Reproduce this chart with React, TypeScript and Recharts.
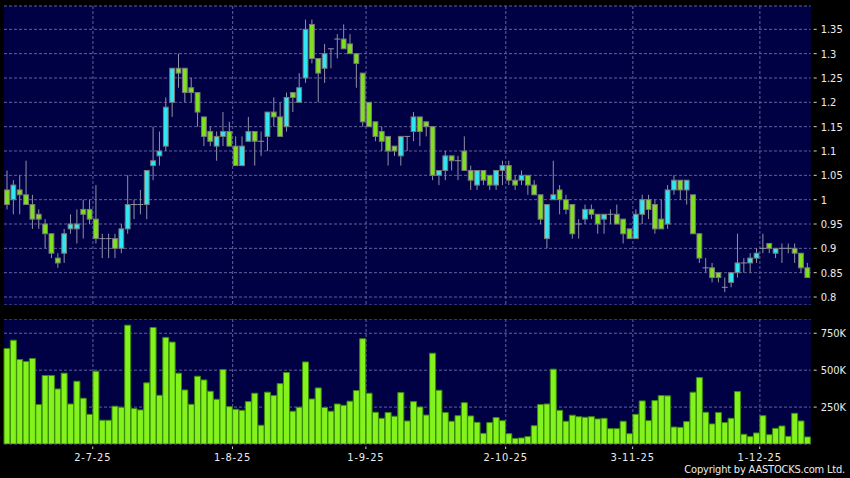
import React from "react"
import { ComposedChart, Bar, XAxis, YAxis, CartesianGrid } from "recharts"

// trading days shown on the chart, grouped by month (2025)
const monthDays: [string, number[]][] = [
  ["6", [12, 13, 16, 17, 18, 19, 20, 23, 24, 25, 26, 27, 30]],
  ["7", [2, 3, 4, 7, 8, 9, 10, 11, 14, 15, 16, 17, 18, 21, 22, 23, 24, 25, 28, 29, 30, 31]],
  ["8", [1, 4, 5, 6, 7, 8, 11, 12, 13, 14, 15, 18, 19, 20, 21, 22, 25, 26, 27, 28, 29]],
  ["9", [1, 2, 3, 4, 5, 8, 9, 10, 11, 12, 15, 16, 17, 18, 19, 22, 23, 24, 25, 26, 29, 30]],
  ["10", [2, 3, 6, 8, 9, 10, 13, 14, 15, 16, 17, 20, 21, 22, 23, 24, 27, 28, 30, 31]],
  ["11", [3, 4, 5, 6, 7, 10, 11, 12, 13, 14, 17, 18, 19, 20, 21, 24, 25, 26, 27, 28]],
  ["12", [1, 2, 3, 4, 5, 8, 9, 10, 11]],
]
const dates = monthDays.flatMap(([m, ds]) => ds.map((d) => `${d}-${m}-25`))

const open = [
  1.02, 1.0, 1.02, 1.01, 0.99, 0.97, 0.95, 0.93, 0.88, 0.89, 0.94, 0.94, 0.98, 0.98, 0.96, 0.92, 0.92, 0.92, 0.9, 0.94,
  0.99, 0.99, 0.99, 1.07, 1.09, 1.11, 1.2, 1.27, 1.27, 1.23, 1.22, 1.17, 1.14, 1.11, 1.13, 1.14, 1.11, 1.07, 1.12, 1.14,
  1.12, 1.13, 1.18, 1.17, 1.15, 1.22, 1.2, 1.25, 1.36, 1.29, 1.27, 1.31, 1.33, 1.33, 1.32, 1.3, 1.26, 1.2, 1.16, 1.14,
  1.13, 1.11, 1.09, 1.13, 1.14, 1.17, 1.16, 1.15, 1.05, 1.06, 1.09, 1.08, 1.1, 1.06, 1.03, 1.06, 1.05, 1.03, 1.06, 1.07,
  1.04, 1.04, 1.05, 1.03, 1.01, 0.92, 1.0, 1.02, 1.0, 0.99, 0.95, 0.96, 0.98, 0.97, 0.96, 0.97, 0.97, 0.96, 0.94, 0.92,
  0.97, 1.0, 0.99, 0.96, 0.95, 1.02, 1.04, 1.02, 1.01, 0.93, 0.86, 0.86, 0.85, 0.82, 0.83, 0.85, 0.87, 0.87, 0.88, 0.9,
  0.91, 0.89, 0.9, 0.9, 0.9, 0.89, 0.86,
]
const high = [
  1.06, 1.04, 1.05, 1.08, 1.01, 0.98, 0.96, 0.93, 0.89, 0.94, 0.97, 0.98, 1.0, 1.0, 1.03, 0.93, 0.93, 0.93, 0.95, 1.05,
  1.0, 1.02, 1.06, 1.15, 1.14, 1.21, 1.27, 1.3, 1.27, 1.25, 1.22, 1.17, 1.15, 1.14, 1.18, 1.16, 1.13, 1.13, 1.17, 1.14,
  1.14, 1.18, 1.21, 1.2, 1.22, 1.22, 1.26, 1.37, 1.37, 1.29, 1.32, 1.31, 1.34, 1.36, 1.34, 1.3, 1.26, 1.2, 1.16, 1.15,
  1.13, 1.11, 1.13, 1.13, 1.18, 1.17, 1.16, 1.15, 1.06, 1.1, 1.09, 1.09, 1.13, 1.07, 1.06, 1.06, 1.05, 1.06, 1.08, 1.08,
  1.05, 1.06, 1.05, 1.04, 1.01, 0.99, 1.08, 1.03, 1.01, 0.99, 0.96, 0.99, 0.99, 0.97, 0.97, 0.98, 0.99, 0.96, 0.94, 0.98,
  1.01, 1.01, 1.0, 1.0, 1.03, 1.05, 1.04, 1.04, 1.01, 0.93, 0.88, 0.87, 0.85, 0.84, 0.85, 0.93, 0.88, 0.89, 0.9, 0.93,
  0.91, 0.9, 0.91, 0.91, 0.91, 0.89, 0.87,
]
const low = [
  0.98, 0.97, 0.97, 0.99, 0.94, 0.94, 0.9, 0.88, 0.86, 0.87, 0.93, 0.91, 0.92, 0.95, 0.91, 0.88, 0.88, 0.88, 0.89, 0.93,
  0.96, 0.97, 0.96, 1.04, 1.07, 1.1, 1.17, 1.23, 1.2, 1.2, 1.15, 1.11, 1.11, 1.08, 1.11, 1.11, 1.07, 1.07, 1.12, 1.07,
  1.09, 1.1, 1.15, 1.13, 1.14, 1.18, 1.2, 1.24, 1.28, 1.2, 1.24, 1.27, 1.29, 1.31, 1.3, 1.23, 1.15, 1.15, 1.12, 1.1,
  1.07, 1.09, 1.07, 1.1, 1.12, 1.11, 1.13, 1.04, 1.03, 1.04, 1.06, 1.04, 1.06, 1.02, 1.02, 1.03, 1.02, 1.02, 1.03, 1.03,
  1.02, 1.03, 1.01, 1.01, 0.95, 0.9, 1.0, 0.97, 0.97, 0.92, 0.92, 0.95, 0.96, 0.93, 0.93, 0.95, 0.95, 0.91, 0.92, 0.92,
  0.95, 0.96, 0.93, 0.94, 0.94, 1.01, 1.0, 0.99, 0.93, 0.87, 0.85, 0.83, 0.83, 0.81, 0.82, 0.84, 0.85, 0.85, 0.87, 0.89,
  0.89, 0.88, 0.87, 0.89, 0.87, 0.85, 0.84,
]
const close = [
  0.99, 1.03, 1.01, 0.99, 0.96, 0.96, 0.93, 0.89, 0.87, 0.93, 0.95, 0.95, 0.97, 0.96, 0.92, 0.92, 0.92, 0.9, 0.94, 0.99,
  0.99, 0.99, 1.06, 1.08, 1.1, 1.19, 1.27, 1.26, 1.22, 1.22, 1.18, 1.13, 1.12, 1.13, 1.14, 1.11, 1.07, 1.11, 1.14, 1.12,
  1.12, 1.18, 1.17, 1.13, 1.21, 1.21, 1.23, 1.35, 1.29, 1.26, 1.3, 1.31, 1.33, 1.31, 1.3, 1.28, 1.16, 1.15, 1.13, 1.12,
  1.1, 1.1, 1.13, 1.13, 1.17, 1.14, 1.15, 1.05, 1.06, 1.09, 1.08, 1.08, 1.06, 1.04, 1.06, 1.04, 1.03, 1.06, 1.07, 1.04,
  1.03, 1.05, 1.03, 1.01, 0.96, 0.99, 1.01, 1.0, 0.98, 0.93, 0.95, 0.98, 0.97, 0.95, 0.97, 0.97, 0.95, 0.93, 0.92, 0.97,
  1.0, 0.98, 0.94, 0.94, 1.02, 1.04, 1.02, 1.04, 0.93, 0.88, 0.86, 0.84, 0.84, 0.82, 0.85, 0.87, 0.87, 0.88, 0.89, 0.9,
  0.9, 0.9, 0.9, 0.9, 0.89, 0.86, 0.84,
]
// volume in thousands of shares
const volume = [
  647, 703, 572, 559, 579, 267, 464, 464, 373, 480, 271, 425, 310, 201, 493, 161, 161, 256, 249, 805,
  240, 231, 414, 789, 330, 722, 690, 480, 366, 269, 459, 434, 357, 303, 504, 253, 235, 228, 287, 344,
  127, 351, 328, 409, 484, 222, 249, 556, 305, 380, 247, 222, 271, 262, 290, 362, 713, 344, 215, 174,
  213, 188, 348, 156, 287, 251, 196, 615, 364, 213, 154, 192, 280, 190, 147, 72, 145, 179, 158, 70,
  38, 41, 50, 124, 267, 271, 507, 228, 154, 195, 185, 181, 185, 170, 174, 104, 104, 154, 70, 201,
  292, 158, 294, 328, 326, 115, 113, 152, 351, 450, 215, 136, 213, 145, 174, 355, 66, 50, 75, 192,
  63, 106, 122, 52, 208, 156, 48,
]

const priceTicks = [0.8, 0.85, 0.9, 0.95, 1, 1.05, 1.1, 1.15, 1.2, 1.25, 1.3, 1.35]
const volTicks = [250, 500, 750]
const dateTicks = ["2-7-25", "1-8-25", "1-9-25", "2-10-25", "3-11-25", "1-12-25"]

const data = dates.map((date, i) => ({
  date,
  o: open[i],
  h: high[i],
  l: low[i],
  c: close[i],
  v: volume[i],
}))

const FONT = "'DejaVu Sans Condensed', 'DejaVu Sans', sans-serif"
const PANEL = "#000044"
const GRID = "#62629c"
const UP = "#30e6f2"
const DOWN = "#7fe01f"
const WICK = "#9090a4"

function Candle(props: any) {
  const { x, y, width, height, payload } = props
  const { o, h, l, c } = payload
  const top = Math.min(y, y + height)
  const k = Math.abs(height) / (h - l || 1)
  const py = (p: number) => top + (h - p) * k
  const cx = x + width / 2
  const bw = 4.8
  if (o === c) {
    return (
      <g>
        <line x1={cx} x2={cx} y1={py(h)} y2={py(l)} stroke={WICK} />
        <line x1={x} x2={x + width} y1={py(o)} y2={py(o)} stroke={WICK} />
      </g>
    )
  }
  const bt = py(Math.max(o, c))
  const bb = py(Math.min(o, c))
  return (
    <g>
      <line x1={cx} x2={cx} y1={py(h)} y2={py(l)} stroke={WICK} />
      <rect x={cx - bw / 2} y={bt} width={bw} height={bb - bt} fill={c > o ? UP : DOWN} stroke="#7a7a7a" strokeWidth={1} />
    </g>
  )
}

function RightTick(props: any) {
  const { x, y, payload, fmt } = props
  return (
    <g>
      <line x1={x - 5} x2={x - 2} y1={y} y2={y} stroke="#d0d0d0" />
      <text x={x + 2} y={y} dy="0.36em" fill="#ececec" fontSize={11} fontFamily={FONT}>
        {fmt(payload.value)}
      </text>
    </g>
  )
}

function DateTick(props: any) {
  const { x, y, payload } = props
  return (
    <g>
      <line x1={x + 3} x2={x + 3} y1={y + 2.5} y2={y + 5} stroke="#d0d0d0" />
      <text x={x + 3} y={y + 16.5} textAnchor="middle" fill="#ececec" fontSize={11} letterSpacing={0.8} fontFamily={FONT}>
        {payload.value}
      </text>
    </g>
  )
}

// vertical grid lines sit on the boundary after each labelled day
const gridX = ({ offset }: any) => {
  const left = offset?.left ?? 4
  const w = offset?.width ?? 806.7
  return dateTicks.map((d) => left + (w * (dates.indexOf(d) + 1)) / dates.length)
}

const fmtPrice = (v: number) => String(Number(v.toFixed(2)))
const fmtVol = (v: number) => `${v}K`

export default function App() {
  return (
    <div style={{ position: "absolute", left: 0, top: 0, width: 850, height: 478, background: "#000", overflow: "hidden" }}>
      <div style={{ position: "absolute", left: 0, top: 0 }}>
        <ComposedChart width={850} height={305} data={data} margin={{ top: 6, right: 0, bottom: 0, left: 4 }} barCategoryGap={0}>
          <CartesianGrid fill={PANEL} stroke={GRID} strokeDasharray="3 2" verticalCoordinatesGenerator={gridX} />
          <XAxis dataKey="date" hide />
          <YAxis
            orientation="right"
            width={39.3}
            domain={[0.7836, 1.3979]}
            allowDataOverflow
            ticks={priceTicks}
            interval={0}
            axisLine={false}
            tickLine={false}
            tick={<RightTick fmt={fmtPrice} />}
          />
          <Bar dataKey={(d: any) => [d.l, d.h]} shape={<Candle />} isAnimationActive={false} />
        </ComposedChart>
      </div>
      <div style={{ position: "absolute", left: 0, top: 319 }}>
        <ComposedChart width={850} height={159} data={data} margin={{ top: 0, right: 0, bottom: 0, left: 4 }} barCategoryGap={0}>
          <CartesianGrid fill={PANEL} stroke={GRID} strokeDasharray="3 2" verticalCoordinatesGenerator={gridX} />
          <XAxis
            dataKey="date"
            height={34}
            ticks={dateTicks}
            interval={0}
            axisLine={false}
            tickLine={false}
            tickSize={0}
            tickMargin={0}
            tick={<DateTick />}
          />
          <YAxis
            orientation="right"
            width={39.3}
            domain={[0, 846.6]}
            allowDataOverflow
            ticks={volTicks}
            interval={0}
            axisLine={false}
            tickLine={false}
            tick={<RightTick fmt={fmtVol} />}
          />
          <Bar dataKey="v" fill="#84f21c" stroke="#3a8a0a" strokeWidth={1} isAnimationActive={false} />
        </ComposedChart>
      </div>
      <div
        style={{
          position: "absolute",
          right: 5,
          top: 464,
          color: "#ececec",
          fontSize: 11,
          fontFamily: FONT,
          letterSpacing: -0.2,
          lineHeight: "12px",
        }}
      >
        Copyright by AASTOCKS.com Ltd.
      </div>
    </div>
  )
}
